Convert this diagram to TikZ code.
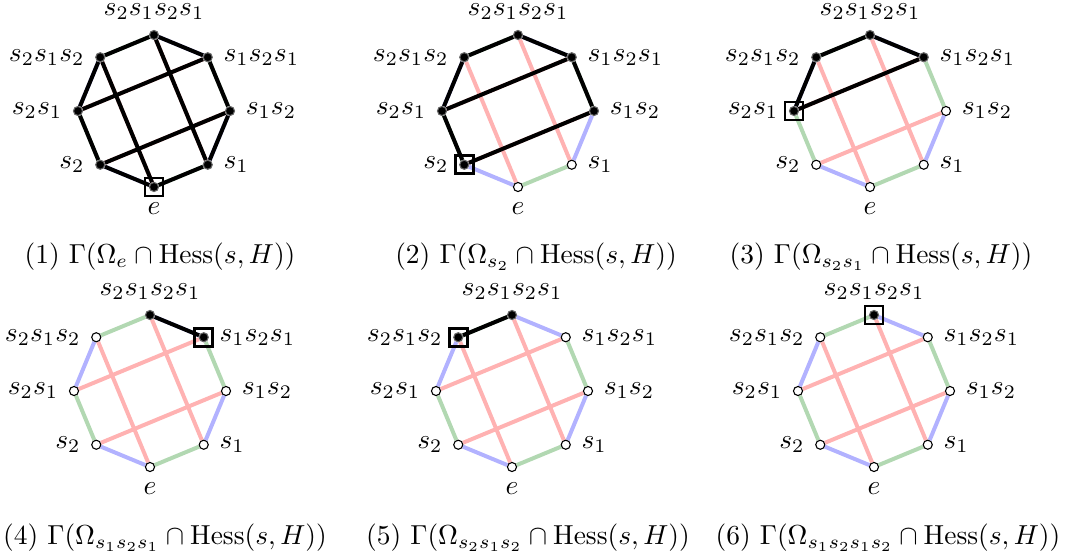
\documentclass[tikz,border=0pt]{standalone}
\usetikzlibrary{calc}
\pgfdeclarelayer{bg}
\pgfsetlayers{bg,main}
\definecolor{redE}{RGB}{255,178,178}
\definecolor{bluE}{RGB}{178,178,255}
\definecolor{grnE}{RGB}{178,216,178}
\begin{document}
\begin{tikzpicture}[x=0.0128cm, y=0.0128cm,
    bdot/.style={circle, fill=black, draw=black!60, line width=0.4pt, inner sep=0pt, minimum size=3.3pt},
    wdot/.style={circle, fill=white, draw=black, line width=0.4pt, inner sep=0pt, minimum size=3.3pt},
    lab/.style={inner sep=1pt, label distance=2.7pt},
    caption/.style={inner sep=1pt},
    cedge/.style={line width=1.45pt},
    kedge/.style={line width=1.45pt, black},
    boxmark/.style={rectangle, draw, line width=1pt, minimum size=6.6pt, inner sep=0pt}]
    \useasboundingbox (0,0) rectangle (1069,558);

    \foreach \p/\cx/\cy/\lo/\hi/\b/\om/\capx/\capy in {
        1/154/447/0/7/0/e/160/301,
        2/518/447/2/7/7/s_2/536/301,
        3/870/447/3/6/6/s_2s_1/881/301,
        4/150/167/3/4/3/s_1s_2s_1/165/20,
        5/512/167/4/5/5/s_2s_1s_2/528/20,
        6/874/167/4/4/4/s_1s_2s_1s_2/888/20}{
        % Vertices
        \foreach \k/\ang/\lab in {0/270/e, 1/0/s_1, 2/0/s_1s_2, 3/0/s_1s_2s_1,
                4/90/s_2s_1s_2s_1, 5/180/s_2s_1s_2, 6/180/s_2s_1, 7/180/s_2}{
            \pgfmathtruncatemacro\on{(\k>=\lo)&&(\k<=\hi)}
            \ifnum\on=1 \def\vsty{bdot}\else\def\vsty{wdot}\fi
            \node[\vsty, label={[lab]\ang:$\lab$}] (p\p-\k) at ($(\cx,\cy)+(\k*45-90:76)$) {};
        }
        % Edges
        \begin{pgfonlayer}{bg}
            \foreach \i/\j/\c in {0/1/grnE, 1/2/bluE, 2/3/grnE, 3/4/bluE, 4/5/grnE,
                    5/6/bluE, 6/7/grnE, 7/0/bluE, 0/5/redE, 1/4/redE, 2/7/redE, 3/6/redE}
                \draw[cedge, \c] (p\p-\i) -- (p\p-\j);
            \foreach \i/\j in {0/1, 1/2, 2/3, 3/4, 4/5, 5/6, 6/7, 7/0, 0/5, 1/4, 2/7, 3/6}{
                \pgfmathtruncatemacro\on{(\i>=\lo)&&(\i<=\hi)&&(\j>=\lo)&&(\j<=\hi)}
                \ifnum\on=1 \draw[kedge] (p\p-\i) -- (p\p-\j); \fi
            }
        \end{pgfonlayer}
        % Marked vertex and caption
        \node[boxmark] (box\p) at (p\p-\b) {};
        \node[caption] (cap\p) at (\capx,\capy) {(\p)~$\Gamma(\Omega_{\om}\cap\mathrm{Hess}(s,H))$};
    }
\end{tikzpicture}
\end{document}
